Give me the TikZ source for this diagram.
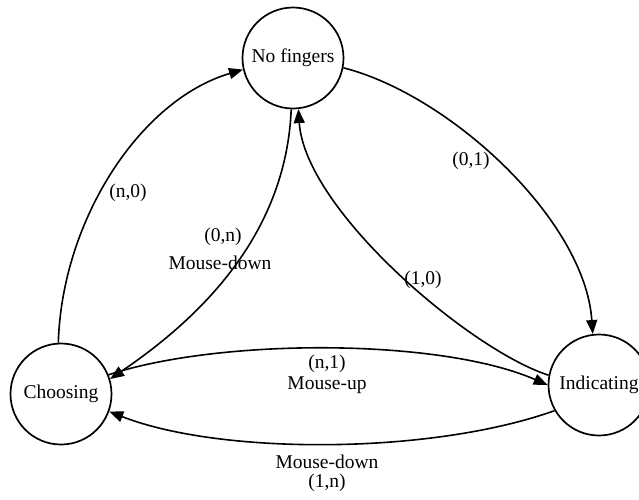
\documentclass[tikz,border=0pt]{standalone}
\usepackage{fontspec}
\setmainfont{Liberation Serif}
\usetikzlibrary{arrows.meta}
\begin{document}
\begin{tikzpicture}[x=1pt,y=-1pt,
  state/.style={draw,circle,line width=1.7pt,minimum size=101pt,inner sep=0pt,font=\fontsize{19.5}{21}\selectfont},
  edge/.style={line width=1.6pt,-{Triangle[length=14pt,width=11pt]}},
  lbl/.style={font=\fontsize{19.5}{21}\selectfont,inner sep=0pt,align=center}]
\useasboundingbox (0,0) rectangle (639,499);
\node[state] (nf) at (293,58) {No fingers};
\node[state] (ch) at (61,394) {Choosing};
\node[state] (in) at (599,385) {Indicating};
% edges
\draw[edge] (ch.93) .. controls (62,220) and (140,100) .. (nf.193);
\draw[edge] (nf.349) .. controls (450,95) and (585,220) .. (in.97);
\draw[edge] (in.169) .. controls (470,350) and (305,210) .. (nf.276);
\draw[edge] (nf.268) .. controls (286,235) and (200,318) .. (ch.17);
\draw[edge] (ch.22) .. controls (220,338) and (440,338) .. (in.180);
\draw[edge] (in.210) .. controls (430,455) and (220,455) .. (ch.340);
% labels
\node[lbl] (l1) at (128,193) {(n,0)};
\node[lbl] (l2) at (471,161) {(0,1)};
\node[lbl] (l3) at (423,280) {(1,0)};
\node[lbl] (l4a) at (223,237) {(0,n)};
\node[lbl] (l4b) at (220,263) {Mouse-down};
\node[lbl] (l5a) at (327,364) {(n,1)};
\node[lbl] (l5b) at (327,385) {Mouse-up};
\node[lbl] (l6a) at (327,462) {Mouse-down};
\node[lbl] (l6b) at (327,483) {(1,n)};
\end{tikzpicture}
\end{document}
